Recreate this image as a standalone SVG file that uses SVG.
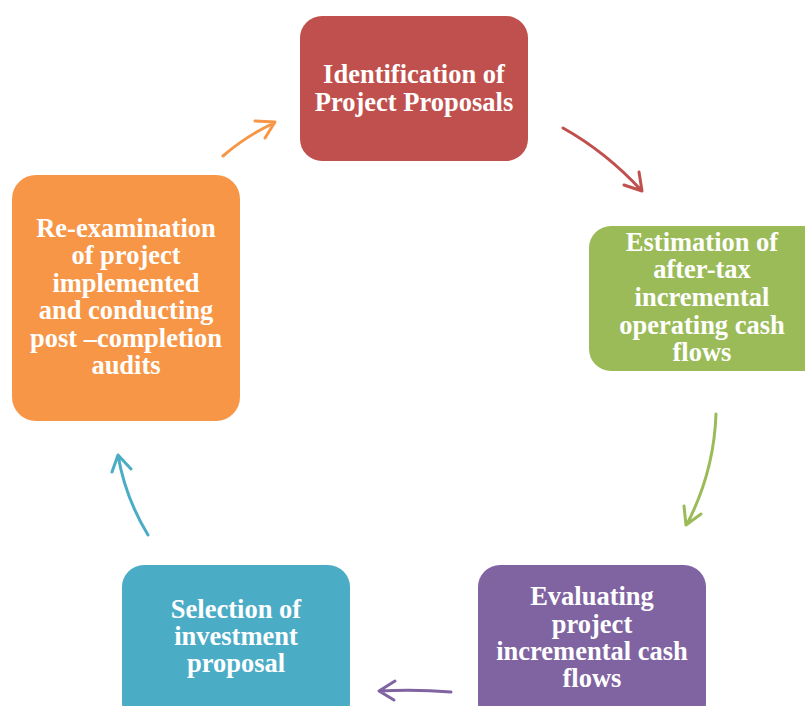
<svg xmlns="http://www.w3.org/2000/svg" width="805" height="706" viewBox="0 0 805 706">
<style>
.box{stroke:none}
.t{font-family:"Liberation Serif","Times New Roman",serif;font-weight:bold;font-size:26.5px;fill:#fff;text-anchor:middle}
.c{fill:none;stroke-width:3;stroke-linecap:round;stroke-linejoin:round}
</style>
<rect width="805" height="706" fill="#fff"/>
<g id="connectors">
<path class="c" stroke="#F79646" d="M223,156 Q246,136 274,123 M255,121 L275,122 L265,138"/>
<path class="c" stroke="#C0504D" d="M563,128 Q606,152 642,191 M624,185 L642,191 L639,172"/>
<path class="c" stroke="#9BBB59" d="M716,414 Q714,472 687,524 M684,506 L686,525 L701,514"/>
<path class="c" stroke="#8064A2" d="M451,692 Q416,689 379,691 M395,681 L379,691 L394,700"/>
<path class="c" stroke="#4BACC6" d="M148,535 Q125,497 118,455 M112,472 L118,455 L131,469"/>
</g>
<g id="n1">
<rect class="box" x="300" y="16" width="228" height="145" rx="22" fill="#C0504D"/>
<text class="t" x="414" y="83">Identification of</text>
<text class="t" x="414" y="111">Project Proposals</text>
</g>
<g id="n2">
<rect class="box" x="589" y="226" width="240" height="145" rx="22" fill="#9BBB59"/>
<text class="t" x="702" y="251">Estimation of</text>
<text class="t" x="702" y="278">after-tax</text>
<text class="t" x="702" y="306">incremental</text>
<text class="t" x="702" y="334">operating cash</text>
<text class="t" x="702" y="361">flows</text>
</g>
<g id="n3">
<rect class="box" x="478" y="565" width="228" height="160" rx="22" fill="#8064A2"/>
<text class="t" x="592" y="605">Evaluating</text>
<text class="t" x="592" y="633">project</text>
<text class="t" x="592" y="660">incremental cash</text>
<text class="t" x="592" y="687">flows</text>
</g>
<g id="n4">
<rect class="box" x="122" y="565" width="228" height="160" rx="22" fill="#4BACC6"/>
<text class="t" x="236" y="618">Selection of</text>
<text class="t" x="236" y="645">investment</text>
<text class="t" x="236" y="672">proposal</text>
</g>
<g id="n5">
<rect class="box" x="12" y="175" width="228" height="246" rx="24" fill="#F79646"/>
<text class="t" x="126" y="237">Re-examination</text>
<text class="t" x="126" y="264">of project</text>
<text class="t" x="126" y="292">implemented</text>
<text class="t" x="126" y="319">and conducting</text>
<text class="t" x="126" y="347">post –completion</text>
<text class="t" x="126" y="374">audits</text>
</g>
</svg>
